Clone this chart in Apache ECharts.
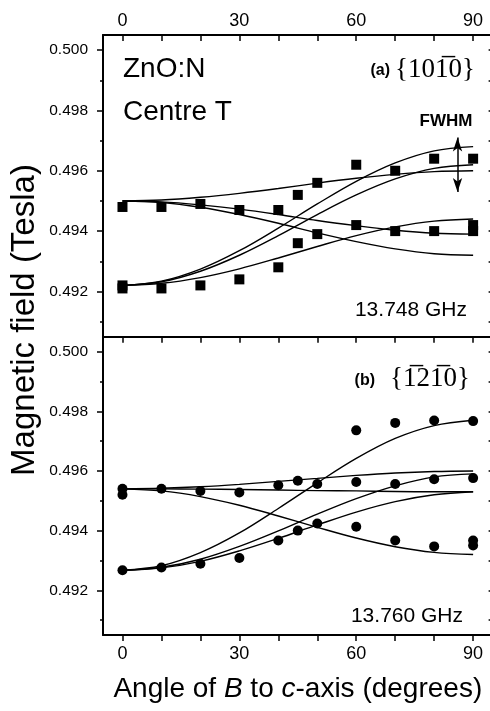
<!DOCTYPE html>
<html><head><meta charset="utf-8">
<script src="https://cdn.jsdelivr.net/npm/echarts@6/dist/echarts.min.js"></script>
<style>html,body{margin:0;padding:0;background:#fff}#c{width:490px;height:711px}</style>
</head><body><div id="c"></div>
<script>
// ---------- data ----------
const angles = [0, 10, 20, 30, 40, 50, 60, 70, 80, 90];
const tickAngles = [0, 10, 20, 30, 40, 50, 60, 70, 80, 90];
const labelAngles = [0, 30, 60, 90];
const fieldTicks = [0.492, 0.494, 0.496, 0.498, 0.500];
const fieldMinorTicks = [0.491, 0.493, 0.495, 0.497, 0.499];
const fieldAllTicks = [0.491, 0.492, 0.493, 0.494, 0.495, 0.496, 0.497, 0.498, 0.499, 0.500];

// (a) {10-10} 13.748 GHz measured points (square)
const squaresAngle = [0, 0, 0, 10, 10, 20, 20, 30, 30, 40, 40, 45, 45, 50, 50, 60, 60, 70, 70, 80, 80, 90, 90, 90];
const squaresField = [0.4948, 0.4922, 0.4921, 0.4948, 0.4921, 0.4949, 0.4922, 0.4947, 0.4924, 0.4947, 0.4928,
  0.4952, 0.4936, 0.4956, 0.4939, 0.4962, 0.4942, 0.4960, 0.4940, 0.4964, 0.4940, 0.4964, 0.4942, 0.4940];
// (a) fitted curves
const fitA1 = [0.4950, 0.49503, 0.49512, 0.49525, 0.49541, 0.49559, 0.49575, 0.49588, 0.49597, 0.4960];
const fitA2 = [0.4950, 0.49497, 0.49487, 0.49473, 0.49455, 0.49435, 0.49418, 0.49403, 0.49393, 0.4939];
const fitA3 = [0.4950, 0.49495, 0.49479, 0.49455, 0.49426, 0.49394, 0.49365, 0.49341, 0.49325, 0.4932];
const fitA4 = [0.4922, 0.49234, 0.49274, 0.49335, 0.4941, 0.4949, 0.49565, 0.49626, 0.49666, 0.4968];
const fitA5 = [0.4922, 0.49232, 0.49267, 0.4932, 0.49385, 0.49455, 0.4952, 0.49573, 0.49608, 0.4962];
const fitA6 = [0.4922, 0.49227, 0.49246, 0.49275, 0.49311, 0.49349, 0.49385, 0.49414, 0.49433, 0.4944];
const fwhmAngle = 86;
const fwhmField = [0.4971, 0.4953];

// (b) {-12-10} 13.760 GHz measured points (circle)
const circlesAngle = [0, 0, 0, 10, 10, 20, 20, 30, 30, 40, 40, 45, 45, 50, 50, 60, 60, 60, 70, 70, 70, 80, 80, 80, 90, 90, 90, 90];
const circlesField = [0.4954, 0.4952, 0.49267, 0.4954, 0.49276, 0.49533, 0.49289, 0.49528, 0.49308, 0.49552, 0.49367,
  0.49567, 0.4940, 0.49556, 0.49424, 0.49736, 0.49563, 0.49413, 0.49761, 0.49556, 0.49367, 0.49769, 0.49572, 0.49347,
  0.49767, 0.49576, 0.49367, 0.4935];
// (b) fitted curves
const fitB1 = [0.4954, 0.49542, 0.49547, 0.49555, 0.49565, 0.49575, 0.49585, 0.49593, 0.49598, 0.4960];
const fitB2 = [0.4954, 0.49540, 0.49539, 0.49538, 0.49536, 0.49534, 0.49533, 0.49531, 0.4953, 0.4953];
const fitB3 = [0.4954, 0.49533, 0.49514, 0.49485, 0.49449, 0.49411, 0.49375, 0.49346, 0.49327, 0.4932];
const fitB4 = [0.49267, 0.49282, 0.49326, 0.49392, 0.49474, 0.4956, 0.49642, 0.49709, 0.49752, 0.4977];
const fitB5 = [0.49267, 0.49277, 0.49304, 0.49347, 0.49399, 0.49455, 0.49507, 0.4955, 0.4958, 0.4959];
const fitB6 = [0.49267, 0.49275, 0.49297, 0.49332, 0.49374, 0.49419, 0.49462, 0.49497, 0.4952, 0.4953];

// ---------- chart ----------
const FONT = 'Liberation Sans';
const pairs = (xs, ys) => xs.map((x, i) => [x, ys[i]]);
const curve = (ys) => pairs(angles, ys);
const black = '#000';

const chart = echarts.init(document.getElementById('c'), null, {renderer: 'canvas'});

const X0 = 103, W = 389.6;
const grids = [
  {left: X0, top: 35, width: W, height: 301.7, containLabel: false, outerBoundsMode: 'none'},
  {left: X0, top: 336.7, width: W, height: 298.3, containLabel: false, outerBoundsMode: 'none'}
];

function xAx(gi, pos, opts) {
  return Object.assign({
    type: 'value', gridIndex: gi, position: pos, min: -5, max: 95,
    splitLine: {show: false},
    axisLine: {show: true, onZero: false, lineStyle: {color: black, width: 2}},
    axisTick: {show: false},
    axisLabel: {show: false}
  }, opts);
}
function yAx(gi, pos, opts) {
  return Object.assign({
    type: 'value', gridIndex: gi, position: pos, min: 0.4905, max: 0.5005,
    splitLine: {show: false},
    axisLine: {show: false, onZero: false, lineStyle: {color: black, width: 2}},
    axisTick: {show: false},
    axisLabel: {show: false}
  }, opts);
}

const xAxis = [
  xAx(0, 'top', {
    axisTick: {show: true, inside: true, length: 6, customValues: tickAngles, lineStyle: {color: black, width: 1.5}},
    axisLabel: {show: true, customValues: labelAngles, margin: 5, color: black, fontFamily: FONT, fontSize: 18}
  }),
  xAx(0, 'bottom', {}),
  xAx(1, 'top', {
    axisTick: {show: true, inside: true, length: 6, customValues: tickAngles, lineStyle: {color: black, width: 1.5}}
  }),
  xAx(1, 'bottom', {
    axisTick: {show: true, inside: false, length: 6, customValues: tickAngles, lineStyle: {color: black, width: 1.5}},
    axisLabel: {show: true, customValues: labelAngles, margin: 10, color: black, fontFamily: FONT, fontSize: 18},
    name: 'Angle of {i|B} to {i|c}-axis (degrees)',
    nameLocation: 'middle', nameGap: 40,
    nameTextStyle: {color: black, fontFamily: FONT, fontSize: 28,
      rich: {i: {fontStyle: 'italic', fontFamily: FONT, fontSize: 28, color: black}}}
  })
];

const yAxis = [];
[0, 1].forEach(gi => {
  yAxis.push(yAx(gi, 'left', {
    axisLine: {show: true, onZero: false, lineStyle: {color: black, width: 2}},
    axisTick: {show: true, inside: false, length: 6, customValues: fieldTicks, lineStyle: {color: black, width: 1.5}},
    axisLabel: {show: true, customValues: fieldTicks, margin: 15, color: black, fontFamily: FONT, fontSize: 15.5,
      formatter: v => v.toFixed(3)}
  }));
  yAxis.push(yAx(gi, 'left', {
    axisTick: {show: true, inside: false, length: 3, customValues: fieldMinorTicks, lineStyle: {color: black, width: 1.5}}
  }));
  yAxis.push(yAx(gi, 'right', {
    axisLine: {show: true, onZero: false, lineStyle: {color: black, width: 2}},
    axisTick: {show: true, inside: true, length: 4, customValues: fieldAllTicks, lineStyle: {color: black, width: 1.5}}
  }));
});

function lineSeries(gi, ys, extra) {
  return Object.assign({
    type: 'line', xAxisIndex: gi === 0 ? 0 : 2, yAxisIndex: gi === 0 ? 0 : 3,
    data: curve(ys), smooth: 0.35, showSymbol: false, symbol: 'none',
    lineStyle: {color: black, width: 1.4}, silent: true, animation: false, z: 3
  }, extra || {});
}

const series = [
  lineSeries(0, fitA1, {
    markLine: {
      silent: true, symbol: ['arrow', 'arrow'], symbolSize: [7, 14], animation: false,
      label: {show: false},
      lineStyle: {color: black, width: 1.5, type: 'solid'},
      data: [[{coord: [fwhmAngle, fwhmField[0]]}, {coord: [fwhmAngle, fwhmField[1]]}]]
    }
  }),
  lineSeries(0, fitA2), lineSeries(0, fitA3), lineSeries(0, fitA4), lineSeries(0, fitA5), lineSeries(0, fitA6),
  {
    type: 'scatter', xAxisIndex: 0, yAxisIndex: 0, data: pairs(squaresAngle, squaresField),
    symbol: 'rect', symbolSize: [10, 10], itemStyle: {color: black, opacity: 1}, animation: false, z: 4
  },
  lineSeries(1, fitB1), lineSeries(1, fitB2), lineSeries(1, fitB3), lineSeries(1, fitB4), lineSeries(1, fitB5), lineSeries(1, fitB6),
  {
    type: 'scatter', xAxisIndex: 2, yAxisIndex: 3, data: pairs(circlesAngle, circlesField),
    symbol: 'circle', symbolSize: 10, itemStyle: {color: black, opacity: 1}, animation: false, z: 4
  }
];

const txt = (x, y, text, style, extra) => Object.assign({
  type: 'text', x: x, y: y, silent: true,
  style: Object.assign({text: text, fill: black, fontFamily: FONT}, style)
}, extra || {});

const graphic = [
  txt(25, 320, 'Magnetic field (Tesla)', {fontSize: 33, align: 'center', verticalAlign: 'middle'}, {rotation: Math.PI / 2}),
  txt(123, 69, 'ZnO:N', {fontSize: 28, align: 'left', verticalAlign: 'middle'}),
  txt(123, 112, 'Centre T', {fontSize: 28, align: 'left', verticalAlign: 'middle'}),
  txt(390, 71, '(a)', {fontSize: 16, fontWeight: 'bold', align: 'right', verticalAlign: 'middle'}),
  txt(395, 70, '{101\u03050}', {fontSize: 27, fontFamily: 'Liberation Serif', align: 'left', verticalAlign: 'middle'}),
  txt(446, 121, 'FWHM', {fontSize: 17, fontWeight: 'bold', align: 'center', verticalAlign: 'middle'}),
  txt(467, 310, '13.748 GHz', {fontSize: 21, align: 'right', verticalAlign: 'middle'}),
  txt(375, 381, '(b)', {fontSize: 16, fontWeight: 'bold', align: 'right', verticalAlign: 'middle'}),
  txt(390, 379, '{1\u030521\u03050}', {fontSize: 27, fontFamily: 'Liberation Serif', align: 'left', verticalAlign: 'middle'}),
  txt(463, 616, '13.760 GHz', {fontSize: 21, align: 'right', verticalAlign: 'middle'})
];

chart.setOption({
  animation: false,
  backgroundColor: '#fff',
  grid: grids,
  xAxis: xAxis,
  yAxis: yAxis,
  series: series,
  graphic: graphic
});
</script>
</body></html>
